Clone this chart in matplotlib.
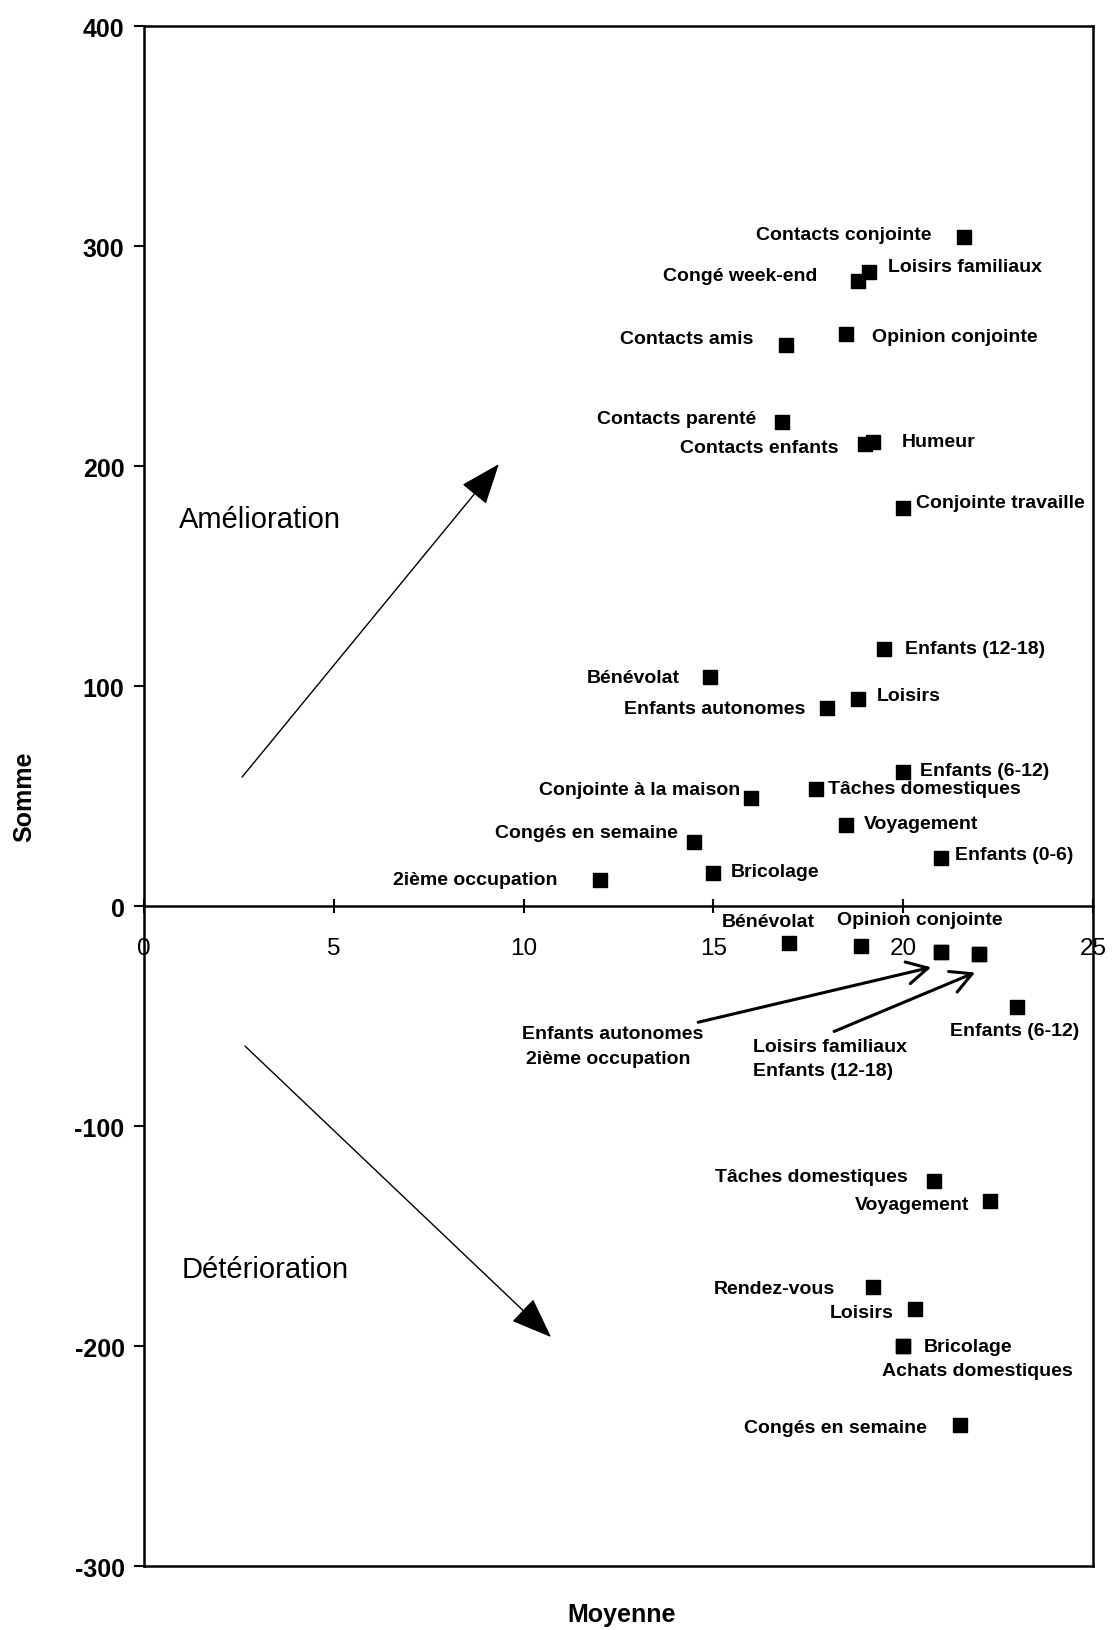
import numpy as np
import matplotlib
matplotlib.use("Agg")
import matplotlib.pyplot as plt
from matplotlib.transforms import offset_copy

plt.rcParams['font.family'] = ['Liberation Sans', 'DejaVu Sans']
plt.rcParams['axes.unicode_minus'] = False

# points au-dessus de zéro (amélioration)
pos_labels = ['Contacts conjointe', 'Loisirs familiaux', 'Congé week-end', 'Contacts amis',
              'Opinion conjointe', 'Contacts parenté', 'Contacts enfants', 'Humeur',
              'Conjointe travaille', 'Enfants (12-18)', 'Bénévolat', 'Loisirs',
              'Enfants autonomes', 'Enfants (6-12)', 'Tâches domestiques',
              'Conjointe à la maison', 'Voyagement', 'Congés en semaine', 'Enfants (0-6)',
              'Bricolage', '2ième occupation']
pos_moy = [21.6, 19.1, 18.8, 16.9, 18.5, 16.8, 19.0, 19.2, 20.0, 19.5, 14.9, 18.8,
           18.0, 20.0, 17.7, 16.0, 18.5, 14.5, 21.0, 15.0, 12.0]
pos_somme = [304, 288, 284, 255, 260, 220, 210, 211, 181, 117, 104, 94,
             90, 61, 53, 49, 37, 29, 22, 15, 12]

# points sous zéro (détérioration)
neg_labels = ['Bénévolat', 'Opinion conjointe', 'Enfants autonomes', '2ième occupation',
              'Loisirs familiaux', 'Enfants (12-18)', 'Enfants (6-12)', 'Tâches domestiques',
              'Voyagement', 'Rendez-vous', 'Loisirs', 'Bricolage', 'Achats domestiques',
              'Congés en semaine']
neg_moy = [17.0, 18.9, 21.0, 21.0, 22.0, 22.0, 23.0, 20.8, 22.3, 19.2, 20.3, 20.0, 20.0, 21.5]
neg_somme = [-17, -18, -21, -21, -22, -22, -46, -125, -134, -173, -183, -200, -200, -236]

x_ticks = [0, 5, 10, 15, 20, 25]
y_ticks = [-300, -200, -100, 0, 100, 200, 300, 400]

# placement des étiquettes : (dx, dy) en pixels, alignement
pos_place = {
    'Contacts conjointe': (-32, 3, 'right'), 'Loisirs familiaux': (19, 6, 'left'),
    'Congé week-end': (-40, 6, 'right'), 'Contacts amis': (-32, 7, 'right'),
    'Opinion conjointe': (26, -2, 'left'), 'Contacts parenté': (-25, 4, 'right'),
    'Contacts enfants': (-27, -3, 'right'), 'Humeur': (29, 0, 'left'),
    'Conjointe travaille': (13, 5, 'left'), 'Enfants (12-18)': (21, 0, 'left'),
    'Bénévolat': (-30, 0, 'right'), 'Loisirs': (19, 4, 'left'),
    'Enfants autonomes': (-22, 0, 'right'), 'Enfants (6-12)': (17, 1, 'left'),
    'Tâches domestiques': (12, 1, 'left'), 'Conjointe à la maison': (-11, 9, 'right'),
    'Voyagement': (18, 1, 'left'), 'Congés en semaine': (-17, 10, 'right'),
    'Enfants (0-6)': (14, 3, 'left'), 'Bricolage': (17, 2, 'left'),
    '2ième occupation': (-42, 0, 'right'),
}
neg_place = {
    'Bénévolat': (-21, 22, 'center'), 'Opinion conjointe': (58, 26, 'center'),
    'Enfants autonomes': (-419, -81, 'left'), '2ième occupation': (-415, -106, 'left'),
    'Loisirs familiaux': (-226, -92, 'left'), 'Enfants (12-18)': (-226, -116, 'left'),
    'Enfants (6-12)': (-2, -23, 'center'), 'Tâches domestiques': (-26, 5, 'right'),
    'Voyagement': (-21, -4, 'right'), 'Rendez-vous': (-38, -2, 'right'),
    'Loisirs': (-21, -4, 'right'), 'Bricolage': (21, 0, 'left'),
    'Achats domestiques': (-21, -24, 'left'), 'Congés en semaine': (-33, -2, 'right'),
}
# flèches vers les points superposés : (fin dx, dy), (début dx, dy) en pixels
neg_arrows = {'Enfants autonomes': ((-10, -15), (-243, -70)),
              'Loisirs familiaux': ((-4, -18), (-145, -77))}

fig = plt.figure(figsize=(11.12, 16.31), dpi=100)
ax = fig.add_axes([0.1295, 0.0392, 0.8534, 0.9442])

ax.scatter(pos_moy, pos_somme, marker='s', s=100, color='black', zorder=3)
ax.scatter(neg_moy, neg_somme, marker='s', s=100, color='black', zorder=3)

for lab, x, y in zip(pos_labels, pos_moy, pos_somme):
    dx, dy, ha = pos_place[lab]
    ax.annotate(lab, (x, y), xytext=(dx, dy), textcoords='offset pixels',
                ha=ha, va='center', fontsize=14, fontweight='bold')

for lab, x, y in zip(neg_labels, neg_moy, neg_somme):
    dx, dy, ha = neg_place[lab]
    ax.annotate(lab, (x, y), xytext=(dx, dy), textcoords='offset pixels',
                ha=ha, va='center', fontsize=14, fontweight='bold')
    if lab in neg_arrows:
        (ex, ey), (sx, sy) = neg_arrows[lab]
        end_tr = offset_copy(ax.transData, fig=fig, x=ex, y=ey, units='dots')
        ax.annotate('', (x, y), xycoords=end_tr, xytext=(sx - ex, sy - ey),
                    textcoords='offset pixels',
                    arrowprops=dict(arrowstyle='->,head_length=0.75,head_width=0.4',
                                    lw=2.2, color='black', shrinkA=0, shrinkB=0,
                                    mutation_scale=20))

# grandes flèches
ax.annotate('', xy=(0.374, 0.7156), xytext=(0.1033, 0.5123), xycoords='axes fraction',
            arrowprops=dict(arrowstyle='-|>,head_length=2.6,head_width=1.0', lw=1.0,
                            color='black', shrinkA=0, shrinkB=0, mutation_scale=10))
ax.annotate('', xy=(0.4289, 0.1487), xytext=(0.1064, 0.3377), xycoords='axes fraction',
            arrowprops=dict(arrowstyle='-|>,head_length=2.6,head_width=1.0', lw=1.0,
                            color='black', shrinkA=0, shrinkB=0, mutation_scale=10))
ax.text(0.1222, 0.680, 'Amélioration', transform=ax.transAxes, ha='center', va='center',
        fontsize=21)
ax.text(0.1275, 0.1929, 'Détérioration', transform=ax.transAxes, ha='center', va='center',
        fontsize=21)

ax.set_xlim(0, 25)
ax.set_ylim(-300, 400)
ax.set_yticks(y_ticks)
ax.tick_params(axis='y', direction='out', length=7, width=1.5, labelsize=18, pad=7)
for t in ax.get_yticklabels():
    t.set_fontweight('bold')
ax.tick_params(axis='x', bottom=False, labelbottom=False)
for sp in ax.spines.values():
    sp.set_linewidth(1.8)

# axe des x à Somme = 0
loc0 = (0 - y_ticks[0]) / (y_ticks[-1] - y_ticks[0])
sec = ax.secondary_xaxis(loc0)
sec.set_xticks(x_ticks)
sec.tick_params(direction='inout', length=10, width=1.5, labelsize=17.5, pad=17)
sec.spines['bottom'].set_linewidth(1.8)

ax.set_ylabel('Somme', fontsize=18, fontweight='bold')
ax.yaxis.set_label_coords(-0.114, 0.5)
ax.set_xlabel('Moyenne', fontsize=18, fontweight='bold')
ax.xaxis.set_label_coords(0.5037, -0.0234)

fig.savefig('out.png', dpi=100)
